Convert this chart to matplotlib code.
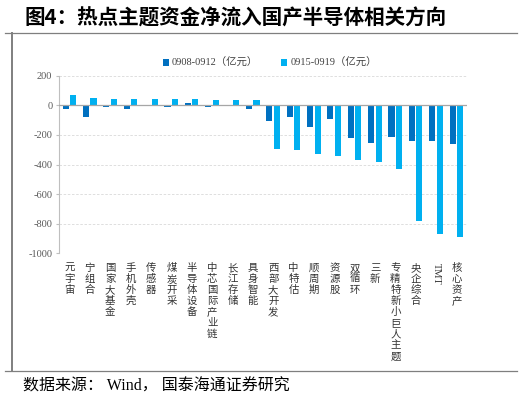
import matplotlib
matplotlib.use("Agg")
import matplotlib.pyplot as plt
import numpy as np
from matplotlib.lines import Line2D

plt.rcParams['font.family'] = ['Liberation Serif', 'Noto Sans CJK SC', 'DejaVu Sans']

categories = ["元宇宙", "宁组合", "国家大基金", "手机外壳", "传感器", "煤炭开采", "半导体设备",
              "中芯国际产业链", "长江存储", "具身智能", "西部大开发", "中特估", "顺周期", "资源股",
              "双循环", "三新", "专精特新小巨人主题", "央企综合", "TMT", "核心资产"]
week1 = [-22, -81, -9, -27, -2, -13, 18, -13, -2, -27, -106, -81, -144, -92, -221, -257, -216, -241, -243, -264]
week2 = [72, 50, 43, 43, 41, 41, 41, 38, 38, 33, -295, -300, -327, -345, -372, -381, -430, -782, -869, -890]
series_names = ["0908-0912（亿元）", "0915-0919（亿元）"]
yticks = [200, 0, -200, -400, -600, -800, -1000]

c1 = "#0070C0"
c2 = "#00B0F0"

fig = plt.figure(figsize=(5.24, 4.01), dpi=100)
ax = fig.add_axes([0.1132, 0.3683, 0.8906 - 0.1132, 0.8112 - 0.3683])

x = np.arange(len(categories))
w = 0.3
b1 = ax.bar(x - 0.19, week1, width=w, color=c1, label=series_names[0], zorder=3)
b2 = ax.bar(x + 0.18, week2, width=w, color=c2, label=series_names[1], zorder=3)

ax.set_xlim(-0.5, len(categories) - 0.5)
ax.set_ylim(-1000, 200)
ax.set_yticks(yticks)
ax.set_yticklabels([str(v) for v in yticks], fontsize=7.5, color="#595959",
                   family=['Liberation Serif'])
for v in yticks:
    if v != 0:
        ax.axhline(v, color="#D9D9D9", lw=0.6, ls=(0, (3, 2)), zorder=1)
ax.axhline(0, color="#A6A6A6", lw=0.9, zorder=4)

for s in ["top", "right", "bottom"]:
    ax.spines[s].set_visible(False)
ax.spines["left"].set_color("#BFBFBF")
ax.spines["left"].set_linewidth(0.8)
ax.tick_params(axis='y', length=2, color="#BFBFBF", pad=3)
ax.tick_params(axis='x', length=0, pad=7)

labels = []
for c in categories:
    if c == "TMT":
        labels.append(c)
    else:
        labels.append("\n".join(c))
ax.set_xticks(x)
ax.set_xticklabels(labels, fontsize=7.5, color="#333333", linespacing=1.13,
                   family=['Noto Sans CJK SC'], va='top')
for t, c in zip(ax.get_xticklabels(), categories):
    if c == "TMT":
        t.set_rotation(-90)
        t.set_family(['Liberation Serif'])
        t.set_va('top')

leg = fig.legend(handles=[b1, b2], loc='center', bbox_to_anchor=(0.515, 0.843), ncol=2,
                 frameon=False, fontsize=7.5, handlelength=0.6, handleheight=0.6,
                 handletextpad=0.3, columnspacing=2.2, borderaxespad=0)
for t in leg.get_texts():
    t.set_color("#404040")
    t.set_family(['Liberation Serif', 'Noto Sans CJK SC'])

fig.text(0.047, 0.955, "图4：热点主题资金净流入国产半导体相关方向", fontsize=14.8, fontweight='bold',
         va='center', ha='left', color='black', family=['Noto Sans CJK SC'])
fig.text(0.044, 0.036, "数据来源： Wind， 国泰海通证券研究", fontsize=11.5, va='center', ha='left',
         color='black', family=['Liberation Serif', 'Noto Sans CJK SC'])

fig.add_artist(Line2D([5/524, 517/524], [1-33/401, 1-33/401], color="#7F7F7F", lw=0.9))
fig.add_artist(Line2D([5/524, 517/524], [1-370.5/401, 1-370.5/401], color="#7F7F7F", lw=0.9))
fig.add_artist(Line2D([12/524, 12/524], [1-33/401, 1-370.5/401], color="#7F7F7F", lw=1.4))

fig.savefig("out.png", dpi=100)
